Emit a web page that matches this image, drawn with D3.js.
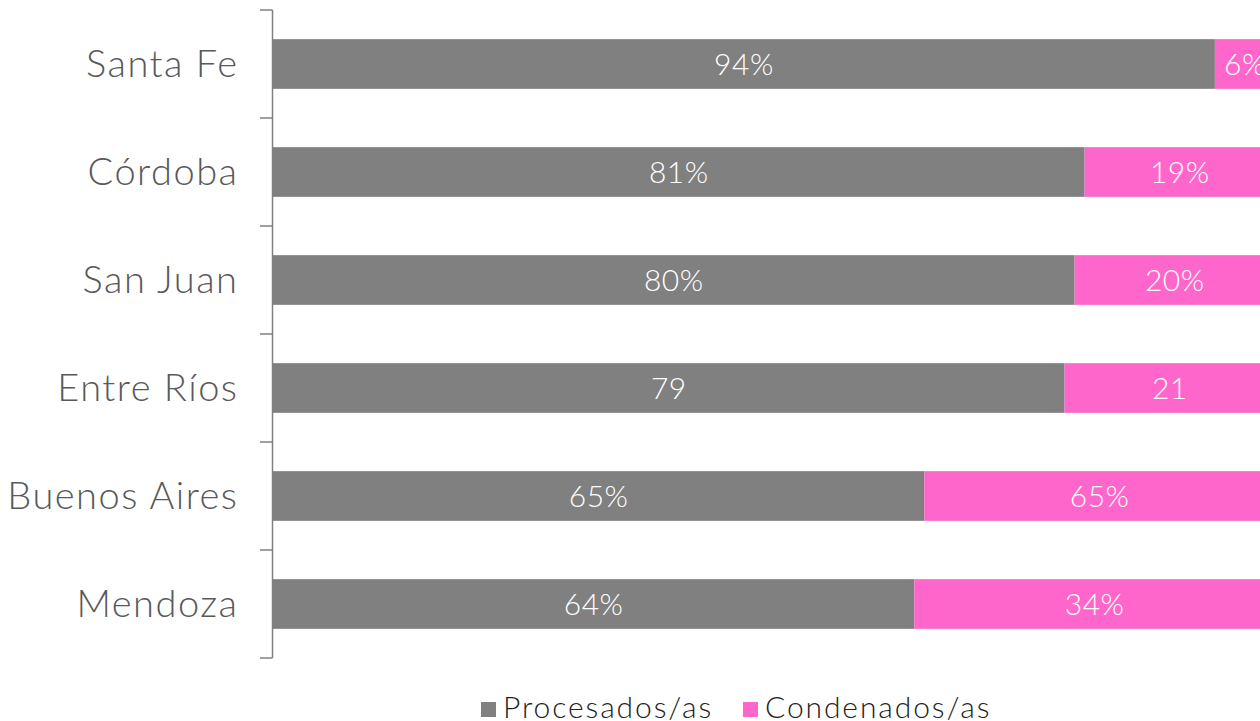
<!DOCTYPE html>
<html>
<head>
<meta charset="utf-8">
<script src="https://cdn.jsdelivr.net/npm/d3@7"></script>
<style>
  body { margin: 0; background: #fff; }
  svg { display: block; }
  text { font-family: Lato, "Open Sans", sans-serif; }
</style>
</head>
<body>
<svg width="1260" height="721"></svg>
<script>
// data
const provincias = ["Santa Fe", "Córdoba", "San Juan", "Entre Ríos", "Buenos Aires", "Mendoza"];
const procesados = [94, 81, 80, 79, 65, 64];
const condenados = [6, 19, 20, 21, 35, 36];
// labels as printed on the chart
const procesadosLabels = ["94%", "81%", "80%", "79", "65%", "64%"];
const condenadosLabels = ["6%", "19%", "20%", "21", "65%", "34%"];
const series = ["Procesados/as", "Condenados/as"];
const colors = ["#808080", "#FF66CC"];

const svg = d3.select("svg"),
  width = +svg.attr("width"),
  height = +svg.attr("height");

const x = d3.scaleLinear().domain([0, 100]).range([273, 1275]);
const y = d3.scaleBand()
  .domain(provincias)
  .range([10, 658])
  .paddingInner(0.54)
  .paddingOuter(0.27);

const rows = provincias.map((p, i) => ({
  name: p,
  vals: [procesados[i], condenados[i]],
  labels: [procesadosLabels[i], condenadosLabels[i]]
}));

// bars
const g = svg.append("g");
rows.forEach(r => {
  let acc = 0;
  r.vals.forEach((v, k) => {
    g.append("rect")
      .attr("x", x(acc))
      .attr("y", y(r.name))
      .attr("width", x(acc + v) - x(acc))
      .attr("height", y.bandwidth())
      .attr("fill", colors[k]);
    g.append("text")
      .attr("x", (x(acc) + x(acc + v)) / 2)
      .attr("y", y(r.name) + y.bandwidth() / 2)
      .attr("dy", "0.35em")
      .attr("text-anchor", "middle")
      .attr("fill", "#fff")
      .style("font-size", "30px")
      .style("font-weight", 300)
      .style("letter-spacing", "0.5px")
      .text(r.labels[k]);
    acc += v;
  });
});

// axis line and ticks at band edges
const step = y.step();
const y0 = y.range()[0];
svg.append("line")
  .attr("x1", 272.5).attr("x2", 272.5)
  .attr("y1", y0).attr("y2", y0 + step * provincias.length)
  .attr("stroke", "#808080").attr("stroke-width", 1.5);
d3.range(provincias.length + 1).forEach(i => {
  svg.append("line")
    .attr("x1", 260).attr("x2", 272.5)
    .attr("y1", y0 + i * step).attr("y2", y0 + i * step)
    .attr("stroke", "#808080").attr("stroke-width", 1.5);
});

// category labels
svg.append("g").selectAll("text")
  .data(provincias)
  .join("text")
  .attr("x", 238.5)
  .attr("y", d => y(d) + y.bandwidth() / 2)
  .attr("dy", "0.35em")
  .attr("text-anchor", "end")
  .attr("fill", "#595959")
  .style("font-size", "38px")
  .style("font-weight", 300)
  .style("letter-spacing", "1.5px")
  .text(d => d);

// legend
const legend = svg.append("g");
const legendX = [481, 743];
series.forEach((s, i) => {
  legend.append("rect")
    .attr("x", legendX[i]).attr("y", 702)
    .attr("width", 15).attr("height", 15)
    .attr("fill", colors[i]);
  legend.append("text")
    .attr("x", legendX[i] + 22).attr("y", 718)
    .attr("fill", "#222")
    .style("font-size", "30px")
    .style("font-weight", 300)
    .style("letter-spacing", "1.9px")
    .text(s);
});
</script>
</body>
</html>
